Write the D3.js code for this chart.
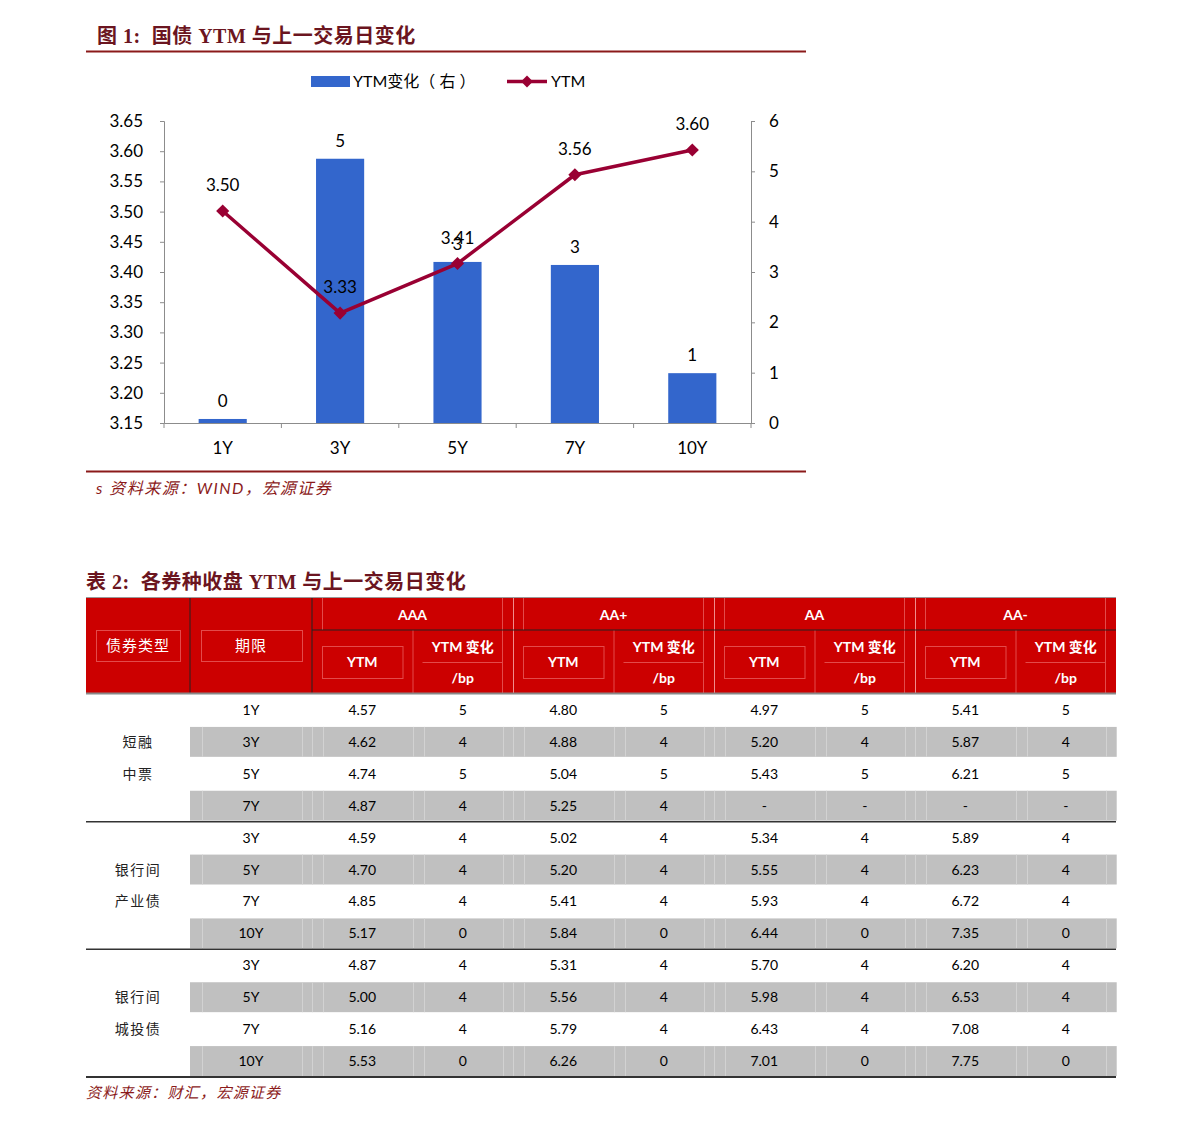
<!DOCTYPE html>
<html><head><meta charset="utf-8">
<script src="https://cdn.jsdelivr.net/npm/d3@7"></script>
<style>
html,body{margin:0;padding:0;background:#fff;}
svg{display:block;}
</style></head>
<body>
<script>
// ---------- Chart data ----------
const categories = ["1Y", "3Y", "5Y", "7Y", "10Y"];
const ytmChange = [0.08, 5.25, 3.2, 3.14, 0.99];   // right axis, bp
const ytm = [3.501, 3.332, 3.414, 3.561, 3.602];    // left axis, %
const leftTicks = [3.15, 3.20, 3.25, 3.30, 3.35, 3.40, 3.45, 3.50, 3.55, 3.60, 3.65];
const rightTicks = [0, 1, 2, 3, 4, 5, 6];

// ---------- Table data ----------
const ratings = ["AAA", "AA+", "AA", "AA-"];
const bondTypes = [["短融", "中票"], ["银行间", "产业债"], ["银行间", "城投债"]];
const terms = [["1Y", "3Y", "5Y", "7Y"], ["3Y", "5Y", "7Y", "10Y"], ["3Y", "5Y", "7Y", "10Y"]];
const rowsDCM = [
  ["4.57", "5", "4.80", "5", "4.97", "5", "5.41", "5"],
  ["4.62", "4", "4.88", "4", "5.20", "4", "5.87", "4"],
  ["4.74", "5", "5.04", "5", "5.43", "5", "6.21", "5"],
  ["4.87", "4", "5.25", "4", "-", "-", "-", "-"]
];
const rowsIndustrial = [
  ["4.59", "4", "5.02", "4", "5.34", "4", "5.89", "4"],
  ["4.70", "4", "5.20", "4", "5.55", "4", "6.23", "4"],
  ["4.85", "4", "5.41", "4", "5.93", "4", "6.72", "4"],
  ["5.17", "0", "5.84", "0", "6.44", "0", "7.35", "0"]
];
const rowsLGFV = [
  ["4.87", "4", "5.31", "4", "5.70", "4", "6.20", "4"],
  ["5.00", "4", "5.56", "4", "5.98", "4", "6.53", "4"],
  ["5.16", "4", "5.79", "4", "6.43", "4", "7.08", "4"],
  ["5.53", "0", "6.26", "0", "7.01", "0", "7.75", "0"]
];

const W = 1191, H = 1123;
const svg = d3.select("body").append("svg").attr("width", W).attr("height", H);

const titleColor = "#6b1520";
const ruleColor = "#8b1a1a";
const serifCJK = "'Liberation Serif', 'Noto Sans CJK SC', serif";
const sans = "Lato, 'Noto Sans CJK SC', sans-serif";
const cjk = "'Noto Sans CJK SC', sans-serif";

// ---------- Figure 1 ----------
svg.append("text").attr("x", 97).attr("y", 43)
  .attr("font-family", serifCJK).attr("font-weight", 600).attr("font-size", 20)
  .attr("fill", titleColor).attr("xml:space", "preserve").attr("letter-spacing", 0.5)
  .text("图 1:  国债 YTM 与上一交易日变化");
svg.append("line").attr("x1", 86).attr("x2", 806).attr("y1", 51.5).attr("y2", 51.5)
  .attr("stroke", ruleColor).attr("stroke-width", 2);

// legend
const barColor = "#3366cc", lineColor = "#990033";
const lg = svg.append("g").attr("font-family", sans).attr("font-size", 16).attr("fill", "#000");
lg.append("rect").attr("x", 311).attr("y", 76).attr("width", 39).attr("height", 11).attr("fill", barColor);
lg.append("text").attr("x", 353).attr("y", 87).attr("xml:space", "preserve").text("YTM变化（ 右 ）");
lg.append("line").attr("x1", 507).attr("x2", 547).attr("y1", 81.5).attr("y2", 81.5)
  .attr("stroke", lineColor).attr("stroke-width", 3.5);
lg.append("path").attr("transform", "translate(527,81.5)")
  .attr("d", d3.symbol(d3.symbolDiamond2, 90)()).attr("fill", lineColor);
lg.append("text").attr("x", 551).attr("y", 87).text("YTM");

// scales
const x = d3.scaleBand().domain(categories).range([164, 751]);
const yL = d3.scaleLinear().domain([3.15, 3.65]).range([423, 121]);
const yR = d3.scaleLinear().domain([0, 6]).range([423, 121]);

const axisColor = "#8c8c8c";
function styleAxis(g) {
  g.selectAll(".domain").attr("stroke", axisColor);
  g.selectAll(".tick line").attr("stroke", axisColor);
  g.selectAll(".tick text").attr("fill", "#000").attr("font-family", sans).attr("font-size", 17);
}

svg.append("g").attr("transform", "translate(164,0)")
  .call(d3.axisLeft(yL).tickValues(leftTicks).tickFormat(d3.format(".2f")).tickSize(4).tickSizeOuter(4).tickPadding(17))
  .call(styleAxis);
svg.append("g").attr("transform", "translate(751,0)")
  .call(d3.axisRight(yR).tickValues(rightTicks).tickFormat(d3.format("d")).tickSize(4).tickSizeOuter(4).tickPadding(14))
  .call(styleAxis);
const xa = svg.append("g").attr("transform", "translate(0,423)")
  .call(d3.axisBottom(x).tickSize(0).tickSizeOuter(0).tickPadding(19))
  .call(styleAxis);
// boundary tick marks
const bounds = categories.map(c => x(c)).concat([x.range()[1]]);
xa.selectAll(".bt").data(bounds).enter().append("line")
  .attr("x1", d => d).attr("x2", d => d).attr("y1", 0).attr("y2", 5)
  .attr("stroke", axisColor);

// bars
const bw = x.bandwidth() * 0.41;
svg.append("g").selectAll("rect").data(categories).enter().append("rect")
  .attr("x", (c) => x(c) + x.bandwidth() / 2 - bw / 2)
  .attr("width", bw)
  .attr("y", (c, i) => yR(ytmChange[i]))
  .attr("height", (c, i) => yR(0) - yR(ytmChange[i]))
  .attr("fill", barColor);
svg.append("g").selectAll("text").data(categories).enter().append("text")
  .attr("x", c => x(c) + x.bandwidth() / 2)
  .attr("y", (c, i) => yR(ytmChange[i]) - 12)
  .attr("text-anchor", "middle").attr("font-family", sans).attr("font-size", 17)
  .text((c, i) => d3.format(".0f")(ytmChange[i]));

// line
const cx = c => x(c) + x.bandwidth() / 2;
svg.append("path")
  .attr("d", d3.line().x((d, i) => cx(categories[i])).y(d => yL(d))(ytm))
  .attr("fill", "none").attr("stroke", lineColor).attr("stroke-width", 3.5).attr("stroke-linejoin", "round");
svg.append("g").selectAll("path").data(ytm).enter().append("path")
  .attr("transform", (d, i) => `translate(${cx(categories[i])},${yL(d)})`)
  .attr("d", d3.symbol(d3.symbolDiamond2, 110)()).attr("fill", lineColor);
svg.append("g").selectAll("text").data(ytm).enter().append("text")
  .attr("x", (d, i) => cx(categories[i]))
  .attr("y", d => yL(d) - 20)
  .attr("text-anchor", "middle").attr("font-family", sans).attr("font-size", 17)
  .text(d => d3.format(".2f")(d));

svg.append("line").attr("x1", 86).attr("x2", 806).attr("y1", 471.5).attr("y2", 471.5)
  .attr("stroke", ruleColor).attr("stroke-width", 2);
svg.append("text").attr("x", 96).attr("y", 494)
  .attr("font-family", sans).attr("font-style", "italic").attr("font-size", 16).attr("letter-spacing", 1.5)
  .attr("fill", ruleColor).text("s 资料来源：WIND，宏源证券");

// ---------- Table 2 ----------
svg.append("text").attr("x", 86).attr("y", 589)
  .attr("font-family", serifCJK).attr("font-weight", 600).attr("font-size", 20)
  .attr("fill", titleColor).attr("xml:space", "preserve").attr("letter-spacing", 0.5)
  .text("表 2:  各券种收盘 YTM 与上一交易日变化");

const tL = 86, tR = 1116, hTop = 598, hMid = 630, hBot = 693;
const red = "#cc0000", faint = "#e34a4a", bright = "#f08c8c";
const colX0 = 190, colX1 = 312;
const groupW = (tR - colX1) / ratings.length;
const subW = groupW / 2;

const tb = svg.append("g");
tb.append("line").attr("x1", tL).attr("x2", tR).attr("y1", hTop - 0.5).attr("y2", hTop - 0.5).attr("stroke", "#999");
tb.append("rect").attr("x", tL).attr("y", hTop).attr("width", tR - tL).attr("height", hBot - hTop).attr("fill", red);

function ln(g, x1, y1, x2, y2, c, w) {
  g.append("line").attr("x1", x1).attr("y1", y1).attr("x2", x2).attr("y2", y2)
    .attr("stroke", c).attr("stroke-width", w || 1);
}
function box(g, x1, y1, x2, y2, c) {
  g.append("rect").attr("x", x1 + 0.5).attr("y", y1 + 0.5).attr("width", x2 - x1).attr("height", y2 - y1)
    .attr("fill", "none").attr("stroke", c);
}
// decorative inner boxes
box(tb, 96, 630, 180, 661, faint);
box(tb, 201, 630, 302, 661, faint);
ratings.forEach((r, k) => {
  const gx = colX1 + k * groupW;
  ln(tb, gx + 10.5, hTop, gx + 10.5, hMid, faint);
  ln(tb, gx + groupW - 10.5, hTop, gx + groupW - 10.5, hBot, faint);
  if (k > 0) ln(tb, gx + 0.5, hTop, gx + 0.5, hBot, bright);
  ln(tb, gx + subW + 0.5, hMid, gx + subW + 0.5, hBot, faint);
  box(tb, gx + 10, 646, gx + subW - 10, 678, faint);
  ln(tb, gx + subW + 10, 662.5, gx + groupW - 10, 662.5, faint);
});
ln(tb, colX0, hTop, colX0, hBot, "#222");
ln(tb, colX1, hTop, colX1, hBot, "#222");
ln(tb, colX1, hMid, tR, hMid, "#222");
ln(tb, tL, hBot + 0.5, tR, hBot + 0.5, "#888", 2);

const hdr = tb.append("g").attr("fill", "#fff").attr("text-anchor", "middle");
hdr.append("text").attr("x", 138).attr("y", 651).attr("font-family", cjk).attr("font-size", 15).attr("letter-spacing", 1).text("债券类型");
hdr.append("text").attr("x", 251).attr("y", 651).attr("font-family", cjk).attr("font-size", 15).attr("letter-spacing", 1).text("期限");
ratings.forEach((r, k) => {
  const gx = colX1 + k * groupW;
  hdr.append("text").attr("x", gx + groupW / 2).attr("y", 620).attr("font-family", sans).attr("font-weight", "bold").attr("font-size", 14).text(r);
  hdr.append("text").attr("x", gx + subW / 2).attr("y", 667).attr("font-family", sans).attr("font-weight", "bold").attr("font-size", 14).text("YTM");
  hdr.append("text").attr("x", gx + subW * 1.5).attr("y", 652).attr("font-family", sans).attr("font-weight", "bold").attr("font-size", 14).attr("xml:space", "preserve").text("YTM 变化");
  hdr.append("text").attr("x", gx + subW * 1.5).attr("y", 683).attr("font-family", sans).attr("font-weight", "bold").attr("font-size", 14).text("/bp");
});

// body
const groups = [rowsDCM, rowsIndustrial, rowsLGFV];
const allRows = [];
groups.forEach((rows, gi) => rows.forEach((r, ri) => allRows.push({ gi, ri, term: terms[gi][ri], vals: r })));
const yRow = d3.scaleBand().domain(d3.range(allRows.length)).range([694, 1077]);
const rh = yRow.bandwidth();

const body = svg.append("g");
allRows.forEach((row, i) => {
  const y0 = yRow(i);
  if (row.ri % 2 === 1) {
    body.append("rect").attr("x", colX0).attr("y", y0 + 1).attr("width", tR - colX0).attr("height", rh - 2).attr("fill", "#c0c0c0");
    const fl = [colX0 + 12, colX1 - 10, colX1];
    ratings.forEach((r, k) => {
      const gx = colX1 + k * groupW;
      fl.push(gx + 11, gx + subW, gx + subW + 11, gx + groupW - 10, gx + groupW);
    });
    fl.forEach(fx => ln(body, Math.round(fx) + 0.5, y0 + 1, Math.round(fx) + 0.5, y0 + rh - 1, "#d2d2d2"));
  }
  const ty = y0 + rh / 2 + 5;
  body.append("text").attr("x", (colX0 + colX1) / 2).attr("y", ty).attr("text-anchor", "middle")
    .attr("font-family", sans).attr("font-size", 14).text(row.term);
  row.vals.forEach((v, j) => {
    body.append("text").attr("x", colX1 + j * subW + subW / 2).attr("y", ty).attr("text-anchor", "middle")
      .attr("font-family", sans).attr("font-size", 14).text(v);
  });
});
// group labels
bondTypes.forEach((lbls, gi) => {
  lbls.forEach((t, li) => {
    const idx = gi * 4 + 1 + li;
    body.append("text").attr("x", 138).attr("y", yRow(idx) + rh / 2 + 5).attr("text-anchor", "middle")
      .attr("font-family", cjk).attr("font-size", 14).attr("letter-spacing", 1.5).attr("fill", "#222").text(t);
  });
});
// group separators
[4, 8].forEach(i => ln(body, tL, yRow(i), tR, yRow(i), "#333", 1.5));
ln(body, tL, 1077, tR, 1077, "#333", 2);

svg.append("text").attr("x", 86).attr("y", 1098)
  .attr("font-family", sans).attr("font-style", "italic").attr("font-size", 15).attr("letter-spacing", 1.3)
  .attr("fill", ruleColor).text("资料来源：财汇，宏源证券");
</script>
</body></html>
